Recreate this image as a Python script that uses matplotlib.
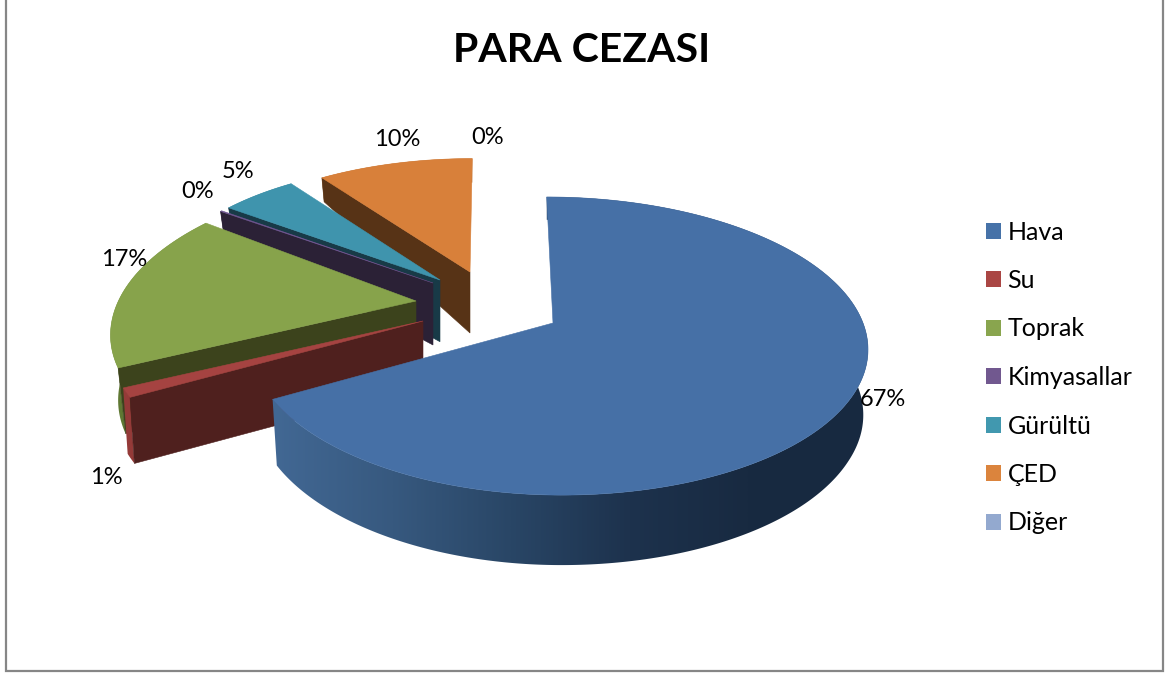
import numpy as np
import matplotlib
matplotlib.use("Agg")
import matplotlib.pyplot as plt
from matplotlib.colors import LinearSegmentedColormap
from matplotlib.patches import Patch, Polygon, Rectangle

# ---- data ----
categories = ["Hava", "Su", "Toprak", "Kimyasallar", "Gürültü", "ÇED", "Diğer"]
values = [67, 1, 17, 0.1, 5, 10, 0]
percent_labels = ["67%", "1%", "17%", "0%", "5%", "10%", "0%"]
title_text = "PARA CEZASI"

# ---- styles ----
top_colors = ["#4670A6", "#A54341", "#87A34B", "#6F5590", "#3F94AD", "#D8803A", "#95AAD1"]
cut_colors = [None, "#4F201E", "#3C431C", "#2B2136", "#183A47", "#573316", None]
side_colors = [None, "#943A38", "#5F7833", "#2B2136", "#2E7285", "#A8622A", None]
legend_colors = ["#4672A8", "#AA4644", "#89A54E", "#71588F", "#4198AF", "#DB843D", "#93A9CF"]
# apex of each exploded slice in pixels and perspective scale
apexes = [(553, 323), (423, 321), (416, 301), (433, 283), (440, 280), (470, 272), (470, 272)]
scales = [1.0, 1.0, 1.0, 0.92, 0.92, 0.90, 0.90]
shears = [0.05, 0, -0.15, 0, 0, -0.02, 0]
left_squeeze = [0.97, 1, 0.96, 1, 1, 1.03, 1]
lower_scale = [0.985, 0.985, 0.975, 0.985, 0.985, 0.985, 0.985]
label_pos = [(883, 399), (106, 477), (124, 259), (198, 192), (238, 172), (397, 140), (488, 138)]

RX, RY, K = 310.0, 145.5, 0.1545
depth_y = [178, 210, 272, 283, 321, 395, 495, 600]
depth_d = [24, 22, 61, 62, 65, 66, 70, 70]

W, H = 1168, 677
plt.rcParams["font.family"] = ["Lato", "DejaVu Sans"]
fig = plt.figure(figsize=(W / 100, H / 100), dpi=100)
ax = fig.add_axes([0, 0, 1, 1])

ax.add_patch(Rectangle((5.5, -5), 1157, 675.5, fill=False, ec="#868686", lw=1.6))

total = sum(values)
fracs = np.array(values) / total
edges = np.concatenate([[0], np.cumsum(fracs)]) * 2 * np.pi


def rim(i, theta):
    u, v = np.sin(theta), np.cos(theta)
    w = 1 + K * v
    s = scales[i]
    dx = RX * u / w * s
    dy = -RY * v / w * s
    dx = np.where(dx < 0, dx * left_squeeze[i], dx)
    return apexes[i][0] + dx + shears[i] * dy, apexes[i][1] + dy


def lower(i, x, y):
    d = np.interp(y, depth_y, depth_d)
    ax0, ay0 = apexes[i]
    return ax0 + lower_scale[i] * (x - ax0), y + d


side_cmap = LinearSegmentedColormap.from_list(
    "hava_side", ["#426894", "#37597F", "#294666", "#1D324D", "#182A41", "#172940"])


def draw_slice(i):
    if values[i] <= 0:
        return
    th = np.linspace(edges[i], edges[i + 1], max(int((edges[i + 1] - edges[i]) * 120), 4))
    x, y = rim(i, th)
    lx, ly = lower(i, x, y)
    ap = apexes[i]
    pts = list(zip(x, y)) + list(zip(lx[::-1], ly[::-1]))
    if i == 0:
        clip = Polygon(pts, closed=True, fc="none", ec="none", transform=ax.transData)
        ax.add_patch(clip)
        grad = np.linspace(0, 1, 400).reshape(1, -1)
        im = ax.imshow(grad, cmap=side_cmap, extent=(272, 868, 580, 190), aspect="auto", zorder=2,
                       interpolation="bilinear")
        im.set_clip_path(clip)
    else:
        ax.add_patch(Polygon(pts, closed=True, fc=side_colors[i], ec="none"))
        alx, aly = lower(i, np.array(ap[0], float), np.array(ap[1], float))
        face = [(x[0], y[0]), ap, (alx, aly), (lx[0], ly[0])]
        ax.add_patch(Polygon(face, closed=True, fc=cut_colors[i], ec=cut_colors[i], lw=0.4))
    top = [ap] + list(zip(x, y))
    ax.add_patch(Polygon(top, closed=True, fc=top_colors[i], ec=top_colors[i], lw=0.4, zorder=3 if i == 0 else 1))


for i in [5, 4, 3, 2, 1, 0]:
    draw_slice(i)

ax.set_xlim(0, W)
ax.set_ylim(H, 0)
ax.set_aspect("auto")
ax.axis("off")

for txt, (lx_, ly_) in zip(percent_labels, label_pos):
    ax.text(lx_, ly_, txt, fontsize=17, color="black", ha="center", va="center", zorder=5)

ax.text(582, 51, title_text, fontsize=29.5, fontweight="bold", color="black", ha="center", va="center", zorder=5)

handles = [Patch(fc=c, ec="none", label=n) for c, n in zip(legend_colors, categories)]
ax.legend(handles=handles, loc="upper left", bbox_to_anchor=(978 / W, 1 - 213 / H), frameon=False,
          fontsize=18, labelspacing=1.02, handlelength=0.6, handleheight=0.6, handletextpad=0.28,
          borderpad=0.3, borderaxespad=0)

fig.savefig("out.png", dpi=100)
